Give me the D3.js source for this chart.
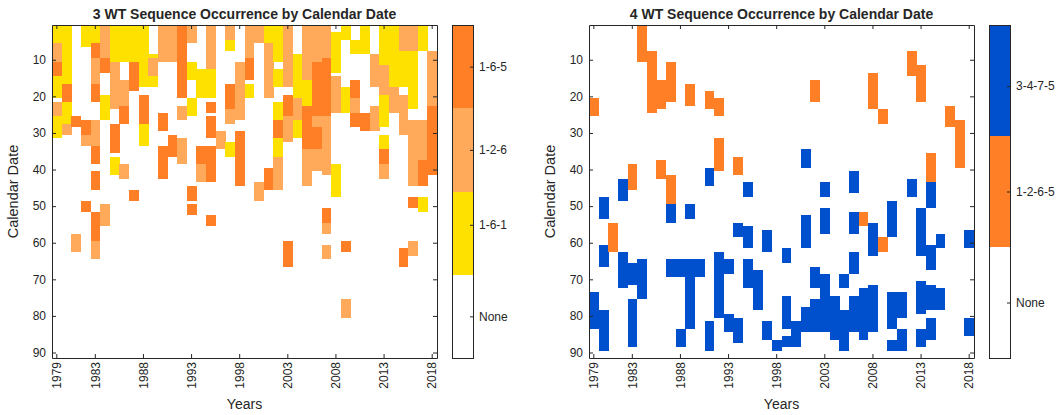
<!DOCTYPE html>
<html>
<head>
<meta charset="utf-8">
<script src="https://cdn.jsdelivr.net/npm/d3@7"></script>
<style>
  body { margin: 0; background: #fff; }
  text { font-family: "Liberation Sans", Arial, sans-serif; fill: #262626; }
</style>
</head>
<body>
<div id="chart"></div>
<script>
// axis values
var years = d3.range(1979, 2019);
var yearTicks = [1979, 1983, 1988, 1993, 1998, 2003, 2008, 2013, 2018];
var dayTicks = [10, 20, 30, 40, 50, 60, 70, 80, 90];

// categories (index 0 = None)
var cats3 = ["None", "1-6-1", "1-2-6", "1-6-5"];
var colors3 = ["#ffffff", "#ffe100", "#ffa95a", "#ff7f27"];
var cbTicks3 = [0.5, 1.6, 2.5, 3.5];   // where matlab put the colorbar labels
var cats4 = ["None", "1-2-6-5", "3-4-7-5"];
var colors4 = ["#ffffff", "#ff7f27", "#004fcc"];
var cbTicks4 = [0.5, 1.5, 2.45];

// runs of days per year: [year, firstDay, lastDay, category]
var seq3 = [
  [1979, 1, 5, 1], [1979, 6, 10, 2], [1979, 11, 14, 3], [1979, 15, 20, 1], [1979, 22, 25, 2], [1979, 26, 31, 1],
  [1980, 1, 16, 1], [1980, 17, 21, 3], [1980, 22, 27, 1], [1980, 28, 30, 2],
  [1981, 26, 28, 3], [1981, 58, 62, 2],
  [1982, 1, 6, 1], [1982, 27, 30, 3], [1982, 31, 33, 2], [1982, 49, 51, 3],
  [1983, 1, 5, 1], [1983, 6, 9, 3], [1983, 10, 16, 2], [1983, 17, 21, 3], [1983, 27, 33, 2], [1983, 34, 38, 3], [1983, 41, 45, 3], [1983, 52, 59, 3], [1983, 60, 64, 2],
  [1984, 1, 9, 2], [1984, 10, 13, 3], [1984, 20, 26, 1], [1984, 50, 55, 2],
  [1985, 1, 10, 1], [1985, 11, 23, 2], [1985, 28, 35, 3], [1985, 37, 41, 1],
  [1986, 1, 10, 1], [1986, 16, 22, 2], [1986, 23, 27, 3], [1986, 39, 42, 2],
  [1987, 1, 10, 1], [1987, 11, 18, 3], [1987, 46, 48, 3],
  [1988, 1, 5, 1], [1988, 6, 17, 1], [1988, 20, 27, 3], [1988, 28, 33, 1],
  [1989, 9, 9, 1], [1989, 10, 14, 2], [1989, 15, 17, 1],
  [1990, 1, 10, 2], [1990, 25, 29, 3], [1990, 34, 42, 3],
  [1991, 1, 10, 2], [1991, 31, 36, 3],
  [1992, 1, 20, 3], [1992, 23, 26, 2], [1992, 32, 38, 2],
  [1993, 1, 5, 2], [1993, 11, 15, 1], [1993, 21, 25, 1], [1993, 45, 48, 3], [1993, 50, 52, 3],
  [1994, 13, 20, 1], [1994, 34, 38, 3], [1994, 39, 43, 2],
  [1995, 1, 12, 2], [1995, 13, 20, 1], [1995, 22, 24, 3], [1995, 26, 31, 3], [1995, 34, 43, 3], [1995, 53, 55, 3],
  [1996, 30, 34, 2],
  [1997, 1, 4, 2], [1997, 5, 7, 1], [1997, 17, 23, 3], [1997, 24, 27, 2], [1997, 33, 36, 1],
  [1998, 11, 26, 2], [1998, 30, 44, 3],
  [1999, 1, 9, 2], [1999, 10, 15, 3], [1999, 17, 20, 1],
  [2000, 1, 5, 2], [2000, 44, 48, 2],
  [2001, 1, 5, 1], [2001, 6, 20, 2], [2001, 40, 45, 3],
  [2002, 1, 10, 1], [2002, 13, 17, 1], [2002, 22, 26, 1], [2002, 27, 31, 3], [2002, 32, 36, 1], [2002, 37, 45, 2],
  [2003, 1, 17, 2], [2003, 20, 25, 3], [2003, 26, 32, 2], [2003, 60, 66, 3],
  [2004, 9, 20, 1], [2004, 21, 26, 2], [2004, 27, 31, 1],
  [2005, 1, 15, 2], [2005, 16, 22, 1], [2005, 23, 34, 3], [2005, 35, 44, 2],
  [2006, 1, 10, 2], [2006, 11, 25, 3], [2006, 26, 28, 2], [2006, 29, 34, 3], [2006, 35, 40, 2],
  [2007, 1, 9, 2], [2007, 10, 25, 3], [2007, 26, 41, 2], [2007, 51, 54, 3], [2007, 55, 57, 2], [2007, 61, 64, 2],
  [2008, 3, 13, 1], [2008, 15, 24, 2], [2008, 39, 47, 1],
  [2009, 1, 4, 1], [2009, 18, 24, 1], [2009, 60, 62, 3], [2009, 76, 80, 2],
  [2010, 5, 8, 1], [2010, 16, 20, 3], [2010, 21, 24, 2], [2010, 25, 28, 3],
  [2011, 1, 8, 1], [2011, 25, 29, 3],
  [2012, 9, 17, 2], [2012, 23, 29, 2],
  [2013, 1, 11, 1], [2013, 12, 19, 2], [2013, 20, 28, 1], [2013, 31, 34, 1], [2013, 35, 38, 3], [2013, 39, 42, 2],
  [2014, 1, 17, 1], [2014, 18, 24, 2],
  [2015, 1, 7, 2], [2015, 8, 17, 1], [2015, 20, 30, 2], [2015, 62, 66, 3],
  [2016, 1, 7, 2], [2016, 8, 23, 1], [2016, 27, 44, 2], [2016, 48, 50, 3], [2016, 60, 63, 2],
  [2017, 1, 7, 1], [2017, 27, 37, 2], [2017, 38, 44, 3], [2017, 48, 51, 1],
  [2018, 8, 22, 2], [2018, 23, 41, 3]
];

var seq4 = [
  [1979, 21, 25, 1], [1979, 74, 83, 2],
  [1980, 48, 53, 2], [1980, 61, 66, 2], [1980, 79, 89, 2],
  [1981, 55, 62, 1],
  [1982, 43, 48, 2], [1982, 63, 72, 2],
  [1983, 39, 45, 1], [1983, 66, 71, 2], [1983, 76, 88, 2],
  [1984, 1, 10, 1], [1984, 65, 75, 2],
  [1985, 8, 24, 1],
  [1986, 16, 23, 1], [1986, 38, 42, 1],
  [1987, 11, 21, 1], [1987, 42, 49, 1], [1987, 50, 54, 2], [1987, 65, 69, 2],
  [1988, 65, 69, 2], [1988, 84, 88, 2],
  [1989, 17, 22, 1], [1989, 50, 53, 2], [1989, 65, 83, 2],
  [1990, 65, 69, 2],
  [1991, 19, 23, 1], [1991, 40, 44, 2], [1991, 82, 89, 2],
  [1992, 21, 25, 1], [1992, 32, 40, 1], [1992, 63, 80, 2],
  [1993, 65, 68, 2], [1993, 80, 84, 2],
  [1994, 37, 41, 1], [1994, 55, 58, 2], [1994, 81, 87, 2],
  [1995, 44, 47, 2], [1995, 56, 61, 2], [1995, 65, 72, 2],
  [1996, 68, 78, 2],
  [1997, 57, 62, 2], [1997, 82, 86, 2],
  [1998, 87, 89, 2],
  [1999, 62, 65, 2], [1999, 75, 83, 2], [1999, 86, 88, 2],
  [2000, 82, 88, 2],
  [2001, 35, 39, 2], [2001, 53, 61, 2], [2001, 78, 84, 2],
  [2002, 16, 21, 1], [2002, 67, 72, 2], [2002, 76, 84, 2],
  [2003, 44, 47, 2], [2003, 51, 57, 2], [2003, 69, 84, 2],
  [2004, 75, 86, 2],
  [2005, 69, 72, 2], [2005, 79, 89, 2],
  [2006, 41, 46, 2], [2006, 52, 57, 2], [2006, 63, 68, 2], [2006, 75, 84, 2],
  [2007, 52, 55, 1], [2007, 73, 86, 2],
  [2008, 14, 23, 1], [2008, 55, 63, 2], [2008, 72, 84, 2],
  [2009, 24, 27, 1], [2009, 59, 62, 1],
  [2010, 49, 58, 2], [2010, 74, 83, 2], [2010, 87, 89, 2],
  [2011, 74, 80, 2], [2011, 84, 89, 2],
  [2012, 8, 14, 1], [2012, 43, 47, 2],
  [2013, 12, 21, 1], [2013, 51, 63, 2], [2013, 71, 79, 2], [2013, 84, 88, 2],
  [2014, 36, 43, 1], [2014, 44, 50, 2], [2014, 61, 67, 2], [2014, 72, 78, 2], [2014, 81, 86, 2],
  [2015, 58, 61, 2], [2015, 73, 78, 2],
  [2016, 23, 28, 1],
  [2017, 27, 39, 1],
  [2018, 57, 61, 2], [2018, 81, 85, 2]
];

function init() {
  var width = 1057, height = 415;
  var plotTop = 25, plotBottom = 358, plotW = 385, cbW = 21;
  var ink = "#262626";

  var svg = d3.select("#chart").append("svg")
    .attr("width", width)
    .attr("height", height);

  var panels = [
    { x0: 52, cbx: 452, title: "3 WT Sequence Occurrence by Calendar Date", cats: cats3, colors: colors3, cbTicks: cbTicks3, data: seq3 },
    { x0: 589, cbx: 989, title: "4 WT Sequence Occurrence by Calendar Date", cats: cats4, colors: colors4, cbTicks: cbTicks4, data: seq4 }
  ];

  var y = d3.scaleLinear().domain([0.5, 91.5]).range([plotTop, plotBottom]);

  panels.forEach(function(p) {
    var g = svg.append("g");
    var x = d3.scaleBand().domain(years).range([p.x0, p.x0 + plotW]);

    // heat cells
    g.append("g").selectAll("rect")
      .data(p.data)
      .join("rect")
      .attr("x", function(d) { return x(d[0]); })
      .attr("width", x.bandwidth() + 0.3)
      .attr("y", function(d) { return y(d[1] - 0.5); })
      .attr("height", function(d) { return y(d[2] + 0.5) - y(d[1] - 0.5); })
      .attr("fill", function(d) { return p.colors[d[3]]; })
      .attr("shape-rendering", "crispEdges");

    // axes, ticks pointing inward like matlab
    var left = g.append("g")
      .attr("transform", "translate(" + p.x0 + ",0)")
      .call(d3.axisLeft(y).tickValues(dayTicks).tickSizeInner(-4).tickSizeOuter(0).tickPadding(6));
    var right = g.append("g")
      .attr("transform", "translate(" + (p.x0 + plotW) + ",0)")
      .call(d3.axisRight(y).tickValues(dayTicks).tickSizeInner(-4).tickSizeOuter(0).tickFormat(""));
    var bottom = g.append("g")
      .attr("transform", "translate(0," + plotBottom + ")")
      .call(d3.axisBottom(x).tickValues(yearTicks).tickSizeInner(-4).tickSizeOuter(0));
    var topAx = g.append("g")
      .attr("transform", "translate(0," + plotTop + ")")
      .call(d3.axisTop(x).tickValues(yearTicks).tickSizeInner(-4).tickSizeOuter(0).tickFormat(""));

    [left, right, bottom, topAx].forEach(function(a) {
      a.select(".domain").attr("stroke", ink).attr("stroke-width", 1);
      a.selectAll(".tick line").attr("stroke", ink);
      a.selectAll("text").style("font-size", "12px").attr("fill", ink);
    });

    bottom.selectAll(".tick text")
      .attr("transform", "rotate(-90)")
      .attr("text-anchor", "end")
      .attr("x", -4)
      .attr("y", 0)
      .attr("dy", "0.35em");

    // titles and labels
    g.append("text")
      .attr("x", p.x0 + plotW / 2)
      .attr("y", 19)
      .attr("text-anchor", "middle")
      .style("font-size", "14px")
      .style("font-weight", "bold")
      .text(p.title);

    g.append("text")
      .attr("transform", "translate(" + (p.x0 - 34) + "," + ((plotTop + plotBottom) / 2) + ") rotate(-90)")
      .attr("text-anchor", "middle")
      .style("font-size", "14.5px")
      .text("Calendar Date");

    g.append("text")
      .attr("x", p.x0 + plotW / 2)
      .attr("y", 409)
      .attr("text-anchor", "middle")
      .style("font-size", "14px")
      .text("Years");

    // colorbar
    var order = p.cats.slice().reverse();
    var cb = d3.scaleBand().domain(order).range([plotTop, plotBottom]);
    g.append("g").selectAll("rect")
      .data(order)
      .join("rect")
      .attr("x", p.cbx)
      .attr("y", function(d) { return cb(d); })
      .attr("width", cbW)
      .attr("height", cb.bandwidth() + 0.3)
      .attr("fill", function(d) { return p.colors[p.cats.indexOf(d)]; })
      .attr("shape-rendering", "crispEdges");

    var cbScale = d3.scaleLinear().domain([0, p.cats.length]).range([plotBottom, plotTop]);
    var cbAxis = g.append("g")
      .attr("transform", "translate(" + (p.cbx + cbW) + ",0)")
      .call(d3.axisRight(cbScale).tickValues(p.cbTicks)
        .tickFormat(function(d, i) { return p.cats[i]; })
        .tickSizeInner(-3).tickSizeOuter(0).tickPadding(6));
    cbAxis.select(".domain").remove();
    cbAxis.selectAll(".tick line").attr("stroke", ink);
    cbAxis.selectAll("text").style("font-size", "12px").attr("fill", ink);

    g.append("rect")
      .attr("x", p.cbx + 0.5)
      .attr("y", plotTop + 0.5)
      .attr("width", cbW)
      .attr("height", plotBottom - plotTop)
      .attr("fill", "none")
      .attr("stroke", ink)
      .attr("stroke-width", 1);
  });
}

window.onload = init;
</script>
</body>
</html>
